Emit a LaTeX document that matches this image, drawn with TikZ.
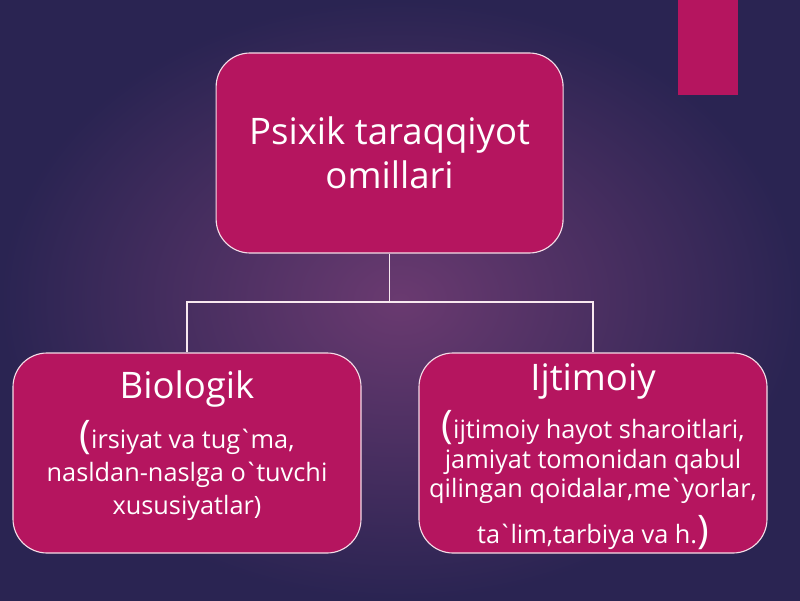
\documentclass[tikz,border=0pt]{standalone}
\usepackage{fontspec}
\setmainfont{Open Sans}[Ligatures=TeXOff]
\definecolor{bgedge}{HTML}{2A2452}
\definecolor{bgmid}{HTML}{6A3A70}
\definecolor{plum}{HTML}{B5155F}
\tikzset{box/.style={draw=white!85!plum, line width=.8pt, fill=plum, rounded corners=.85cm,
  minimum width=8.7cm, minimum height=5cm, inner sep=0pt}}
\tikzset{txt/.style={text=white, align=center, inner sep=0pt, anchor=north}}
\tikzset{link/.style={color=white!90!plum, line width=1.2pt}}
\newcommand{\bigp}[1]{{\fontsize{28}{28}\selectfont #1}}
\newcommand{\head}[1]{{\fontsize{26}{30}\selectfont #1}}
\newcommand{\gr}{\kern-1.5pt`\kern-1.5pt}

\begin{document}
\begin{tikzpicture}
  \shade[inner color=bgmid, outer color=bgedge] (0,0) rectangle (20,15);
  \useasboundingbox (0,0) rectangle (20,15);
  \fill[plum] (16.95,12.625) rectangle (18.45,15);

  \node[box, minimum width=8.675cm, text=white, align=center, font=\fontsize{26}{31}\selectfont]
    (top) at (9.74,11.175) {Psixik taraqqiyot\\ omillari};

  \node[box] (bio) at (4.675,3.675) {};
  \node[txt, font=\fontsize{18}{23.5}\selectfont] (biotxt) at ([yshift=-.45cm]bio.north)
    {\head{Biologik}\\[8pt]
     \bigp{(}irsiyat va tug\gr ma,\\ nasldan-naslga o\gr tuvchi\\ xususiyatlar)};

  \node[box] (ijt) at (14.825,3.675) {};
  \node[txt, font=\fontsize{18}{21}\selectfont] (ijttxt) at ([yshift=-.28cm]ijt.north)
    {\head{Ijtimoiy}\\[7pt]
     \bigp{(}ijtimoiy hayot sharoitlari,\\ jamiyat tomonidan qabul\\
     qilingan qoidalar,me\gr yorlar,\\[7pt] ta\gr lim,tarbiya va h.\bigp{)}};

  \coordinate (mid) at (9.74,7.45);
  \draw[link] (top.south) -- (mid);
  \draw[link] (mid) -| (bio.north);
  \draw[link] (mid) -| (ijt.north);
\end{tikzpicture}
\end{document}
